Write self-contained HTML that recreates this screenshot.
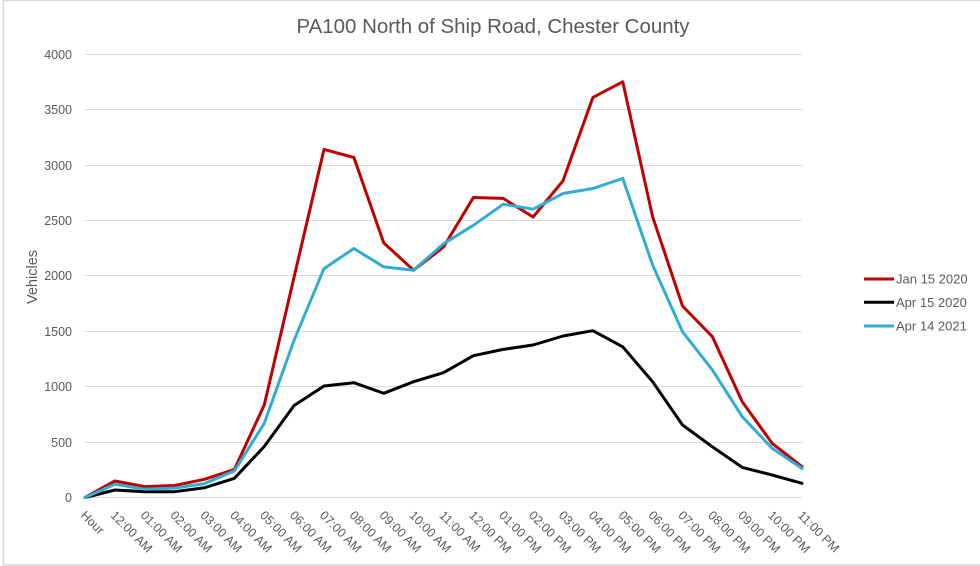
<!DOCTYPE html>
<html>
<head>
<meta charset="utf-8">
<style>
html,body{margin:0;padding:0;background:#fff;}
svg{display:block;}
text{font-family:"Liberation Sans",Arial,sans-serif;fill:#595959;}
</style>
</head>
<body>
<svg width="980" height="566" viewBox="0 0 980 566" xmlns="http://www.w3.org/2000/svg">
<rect x="0" y="0" width="980" height="566" fill="#fff"/>
<rect x="3.5" y="0.5" width="990" height="564.5" fill="none" stroke="#d9d9d9" stroke-width="1.5"/>

<text x="296.5" y="33" font-size="20.3" textLength="393" lengthAdjust="spacingAndGlyphs">PA100 North of Ship Road, Chester County</text>

<g stroke="#d9d9d9" stroke-width="1">
<line x1="85" y1="54.5" x2="802" y2="54.5"/>
<line x1="85" y1="109.5" x2="802" y2="109.5"/>
<line x1="85" y1="165.5" x2="802" y2="165.5"/>
<line x1="85" y1="220.5" x2="802" y2="220.5"/>
<line x1="85" y1="275.5" x2="802" y2="275.5"/>
<line x1="85" y1="331.5" x2="802" y2="331.5"/>
<line x1="85" y1="386.5" x2="802" y2="386.5"/>
<line x1="85" y1="442.5" x2="802" y2="442.5"/>
<line x1="85" y1="497.5" x2="802" y2="497.5"/>
</g>

<g font-size="12.5" text-anchor="end">
<text x="72" y="59">4000</text>
<text x="72" y="114">3500</text>
<text x="72" y="170">3000</text>
<text x="72" y="225">2500</text>
<text x="72" y="280">2000</text>
<text x="72" y="336">1500</text>
<text x="72" y="391">1000</text>
<text x="72" y="447">500</text>
<text x="72" y="502">0</text>
</g>

<text transform="translate(37,277) rotate(-90)" font-size="14.5" text-anchor="middle">Vehicles</text>

<g font-size="12.5">
<text transform="translate(80,516) rotate(45)">Hour</text>
<text transform="translate(109.9,516) rotate(45)">12:00 AM</text>
<text transform="translate(139.75,516) rotate(45)">01:00 AM</text>
<text transform="translate(169.6,516) rotate(45)">02:00 AM</text>
<text transform="translate(199.5,516) rotate(45)">03:00 AM</text>
<text transform="translate(229.4,516) rotate(45)">04:00 AM</text>
<text transform="translate(259.25,516) rotate(45)">05:00 AM</text>
<text transform="translate(289.1,516) rotate(45)">06:00 AM</text>
<text transform="translate(319,516) rotate(45)">07:00 AM</text>
<text transform="translate(348.9,516) rotate(45)">08:00 AM</text>
<text transform="translate(378.75,516) rotate(45)">09:00 AM</text>
<text transform="translate(408.6,516) rotate(45)">10:00 AM</text>
<text transform="translate(438.5,516) rotate(45)">11:00 AM</text>
<text transform="translate(468.4,516) rotate(45)">12:00 PM</text>
<text transform="translate(498.25,516) rotate(45)">01:00 PM</text>
<text transform="translate(528.1,516) rotate(45)">02:00 PM</text>
<text transform="translate(558,516) rotate(45)">03:00 PM</text>
<text transform="translate(587.9,516) rotate(45)">04:00 PM</text>
<text transform="translate(617.75,516) rotate(45)">05:00 PM</text>
<text transform="translate(647.6,516) rotate(45)">06:00 PM</text>
<text transform="translate(677.5,516) rotate(45)">07:00 PM</text>
<text transform="translate(707.4,516) rotate(45)">08:00 PM</text>
<text transform="translate(737.25,516) rotate(45)">09:00 PM</text>
<text transform="translate(767.1,516) rotate(45)">10:00 PM</text>
<text transform="translate(797,516) rotate(45)">11:00 PM</text>
</g>

<g fill="none" stroke-width="3" stroke-linejoin="round" stroke-linecap="round">
<polyline stroke="#c00000" points="85,497.5 114.9,481 144.75,486.6 174.6,485.5 204.5,479.3 234.4,469.4 264.25,405 294.1,277 324,149.4 353.9,157.5 383.75,242.9 413.6,270.2 443.5,247.1 473.4,197.5 503.25,198.4 533.1,217 563,180.8 592.9,97.4 622.75,81.8 652.6,216.7 682.5,306 712.4,336.7 742.25,401.7 772.1,443.3 802,466.7"/>
<polyline stroke="#000000" points="85,497.5 114.9,490 144.75,491.7 174.6,491.7 204.5,487.75 234.4,478.3 264.25,446.5 294.1,405.5 324,386 353.9,382.7 383.75,393.3 413.6,381.7 443.5,372.7 473.4,355.7 503.25,349.4 533.1,345 563,336 592.9,330.7 622.75,346.8 652.6,381.7 682.5,425 712.4,446.8 742.25,467.4 772.1,475 802,483.3"/>
<polyline stroke="#2fadd6" points="85,497.5 114.9,484.2 144.75,489.2 174.6,488.1 204.5,483.65 234.4,470.9 264.25,423.3 294.1,340.2 324,268.6 353.9,248.5 383.75,266.9 413.6,270.2 443.5,243.8 473.4,225.3 503.25,204.2 533.1,209.2 563,193.5 592.9,188.5 622.75,178.4 652.6,265 682.5,331.7 712.4,370 742.25,416.7 772.1,448.3 802,468.4"/>
</g>

<g stroke-width="3">
<line x1="864" y1="279" x2="894" y2="279" stroke="#c00000"/>
<line x1="864" y1="302.3" x2="894" y2="302.3" stroke="#000000"/>
<line x1="864" y1="326" x2="894" y2="326" stroke="#2fadd6"/>
</g>
<g font-size="13">
<text x="896" y="283.7">Jan 15 2020</text>
<text x="896" y="307">Apr 15 2020</text>
<text x="896" y="330.7">Apr 14 2021</text>
</g>
</svg>
</body>
</html>
